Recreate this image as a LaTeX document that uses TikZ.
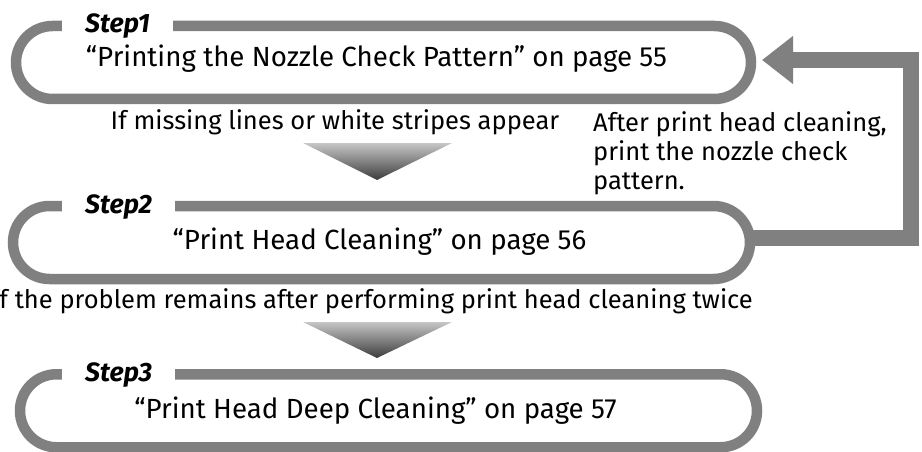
\documentclass[tikz,border=0pt]{standalone}
\usepackage{fontspec}
\setmainfont{Fira Sans}
\usepackage{tikz}
\usetikzlibrary{positioning, arrows.meta, calc}
\definecolor{cFrame}   {HTML}{808080}
\definecolor{cShadeTop}{HTML}{C6C6C6}
\definecolor{cShadeBot}{HTML}{3C3C3C}
\tikzset{
  stepBox/.style={draw=cFrame, line width=10.5pt, rounded corners=36.5pt,
    minimum height=73pt, inner sep=0pt, outer sep=0pt},
  stepTag/.style={fill=white, inner xsep=23pt, inner ysep=3pt, anchor=base west,
    font=\fontsize{26.5}{31}\selectfont\bfseries\itshape},
  pageRef/.style={anchor=base, inner sep=0pt, font=\fontsize{27.7}{33}\selectfont},
  noteText/.style={inner sep=0pt, align=left, font=\fontsize{25.5}{29}\selectfont},
  loopBack/.style={draw=cFrame, line width=16pt, line join=miter,
    -{Triangle[length=31pt, width=46pt]}},
  downChevron/.style={top color=cShadeTop, bottom color=cShadeBot},
}

\begin{document}
\begin{tikzpicture}[x=1pt, y=1pt]
  \useasboundingbox (0,0) rectangle (922,451);

  % the three steps
  \node[stepBox, minimum width=735pt] (box1) at (383.5, 388.5) {};
  \node[stepBox, minimum width=737pt] (box2) at (381.5, 208.5) {};
  \node[stepBox, minimum width=737pt] (box3) at (388.5, 40.25) {};

  \node[stepTag] (tag1) at (62, 418) {Step1};
  \node[stepTag] (tag2) at (62, 238) {Step2};
  \node[stepTag] (tag3) at (62, 69.5) {Step3};

  \node[pageRef] (ref1) at (376.5, 384) {“Printing the Nozzle Check Pattern” on page 55};
  \node[pageRef] (ref2) at (379.5, 202) {“Print Head Cleaning” on page 56};
  \node[pageRef] (ref3) at (375.5, 33) {“Print Head Deep Cleaning” on page 57};

  % conditions between the steps
  \node[noteText, anchor=base] (cond1) at (335, 322) {If missing lines or white stripes appear};
  \node[noteText, anchor=base east] (cond2) at (753, 143)
        {If the problem remains after performing print head cleaning twice};
  \shade[downChevron] (303,308) -- (452,308) -- (377,271) -- cycle;
  \shade[downChevron] (303,129) -- (452,129) -- (377,93) -- cycle;

  % back to step 1
  \coordinate (rail) at (911, 300);
  \draw[loopBack] ([yshift=4.5pt]box2.east) -| (rail) |- ([xshift=11pt, yshift=2.5pt]box1.east);
  \node[noteText, anchor=north west] (redo) at (593, 340)
        {After print head cleaning,\\print the nozzle check\\pattern.};
\end{tikzpicture}
\end{document}
